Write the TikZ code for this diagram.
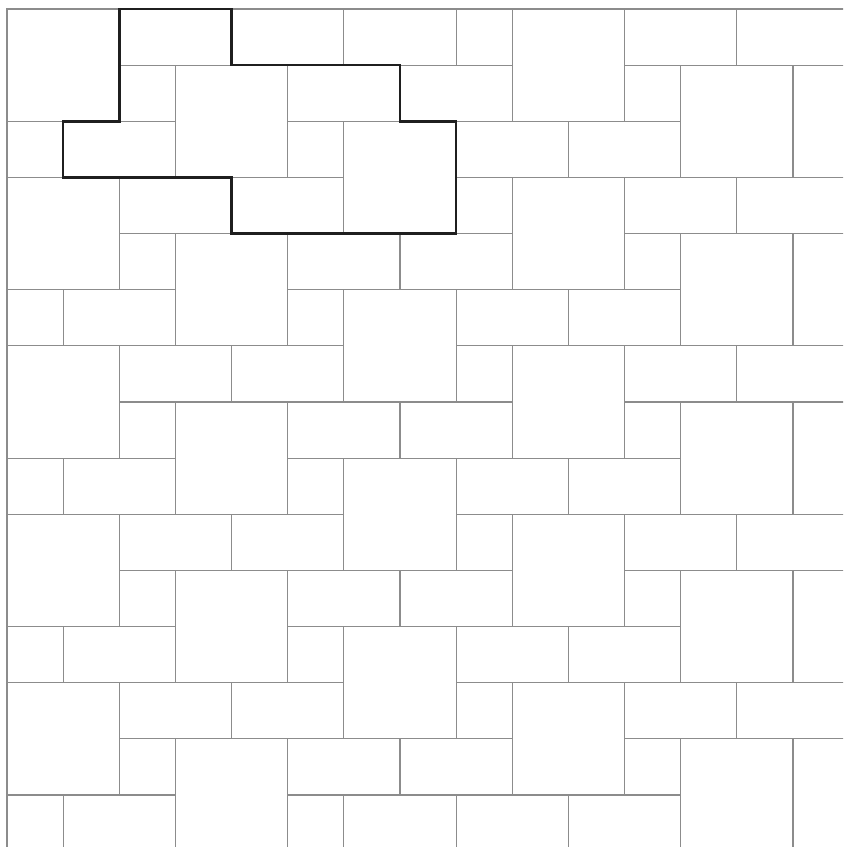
\documentclass[tikz,border=0pt]{standalone}
\begin{document}
\begin{tikzpicture}[yscale=-1,
  tile/.style={draw=black!45, line width=0.6pt},
  outline/.style={draw=black!88, line width=1.3pt, line join=miter}]
\useasboundingbox (-0.125,-0.16) rectangle (14.891,14.927);
\begin{scope}
\clip (0,0) rectangle (14.891,14.927);
\foreach \m in {0,...,5} {
  \foreach \n in {-2,...,6} {
    \pgfmathtruncatemacro{\a}{3*\m}
    \pgfmathtruncatemacro{\b}{mod(\m,3)+3*\n}
    \draw[tile] (\a,\b) rectangle ++(2,2);
    \draw[tile] (\a-2,\b+1) rectangle ++(2,1);
    \ifnum\m<5
      \draw[tile] (\a-1,\b) rectangle ++(1,1);
      \draw[tile] (\a-1,\b-1) rectangle ++(2,1);
    \fi
  }
}
\end{scope}
\draw[tile] (0,14.927) -- (0,0) -- (14.891,0);
\draw[outline] (2,0) -- (4,0) -- (4,1) -- (7,1) -- (7,2) -- (8,2) -- (8,4)
  -- (4,4) -- (4,3) -- (1,3) -- (1,2) -- (2,2) -- cycle;
\end{tikzpicture}
\end{document}
